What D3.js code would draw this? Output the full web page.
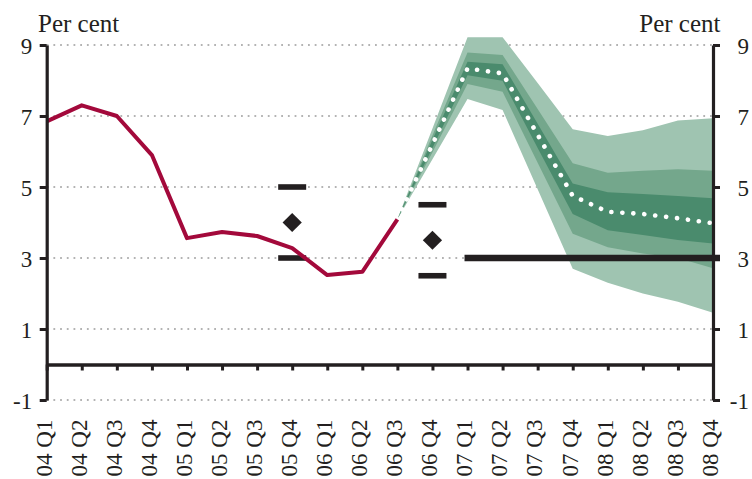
<!DOCTYPE html>
<html>
<head>
<meta charset="utf-8">
<script src="https://cdn.jsdelivr.net/npm/d3@7"></script>
<style>
  html, body { margin: 0; padding: 0; background: #fff; }
  #chart { width: 752px; height: 479px; }
  text { font-family: "Liberation Serif", "Times New Roman", serif; fill: #231f20; }
</style>
</head>
<body>
<div id="chart"></div>
<script>
// --- Data ---
const quarters = [
  "04 Q1", "04 Q2", "04 Q3", "04 Q4",
  "05 Q1", "05 Q2", "05 Q3", "05 Q4",
  "06 Q1", "06 Q2", "06 Q3", "06 Q4",
  "07 Q1", "07 Q2", "07 Q3", "07 Q4",
  "08 Q1", "08 Q2", "08 Q3", "08 Q4"
];
const yTicks = [-1, 1, 3, 5, 7, 9];

// outturn 04 Q1 - 06 Q3
const outturn = [6.85, 7.3, 7.0, 5.9, 3.56, 3.73, 3.62, 3.28, 2.52, 2.61, 4.09];

// fan chart 06 Q3 - 08 Q4
const fanQuarters = quarters.slice(10);
const fanMedian = [4.09, 6.2, 8.34, 8.2, 6.47, 4.75, 4.3, 4.24, 4.12, 3.98];
const fanHi1 = [4.09, 6.33, 8.53, 8.46, 6.78, 5.1, 4.85, 4.8, 4.75, 4.68];
const fanLo1 = [4.09, 6.1, 8.15, 7.99, 6.1, 4.24, 3.78, 3.65, 3.51, 3.41];
const fanHi2 = [4.09, 6.45, 8.79, 8.72, 7.2, 5.67, 5.4, 5.46, 5.5, 5.46];
const fanLo2 = [4.09, 5.98, 7.9, 7.68, 5.68, 3.68, 3.3, 3.13, 3.0, 2.71];
const fanHi3 = [4.09, 6.65, 9.22, 9.22, 7.93, 6.63, 6.44, 6.6, 6.87, 6.94];
const fanLo3 = [4.09, 5.78, 7.48, 7.17, 4.94, 2.7, 2.3, 2.0, 1.77, 1.46];

// target range markers
const rangeQuarters = ["05 Q4", "06 Q4"];
const rangeLow = [3.0, 2.5];
const rangeMid = [4.0, 3.5];
const rangeHigh = [5.0, 4.5];

// target line
const targetQuarters = quarters.slice(12);
const targetValue = 3;

// --- Setup ---
const W = 752, H = 479;
const left = 46.7, right = 713;
const ink = "#231f20";

const svg = d3.select("#chart").append("svg")
  .attr("width", W)
  .attr("height", H);

const x = d3.scalePoint().domain(quarters).range([left, right]);
const y = d3.scaleLinear().domain([-1, 9]).range([400, 45]);

// --- Gridlines ---
svg.append("g")
  .selectAll("line")
  .data(yTicks)
  .join("line")
  .attr("x1", left)
  .attr("x2", right)
  .attr("y1", d => y(d))
  .attr("y2", d => y(d))
  .attr("stroke", "#9a9a9a")
  .attr("stroke-width", 1.3)
  .attr("stroke-dasharray", "1.8,4.9");

// --- Fan bands ---
const fanRows = fanQuarters.map((q, i) => ({
  q, med: fanMedian[i],
  hi1: fanHi1[i], lo1: fanLo1[i],
  hi2: fanHi2[i], lo2: fanLo2[i],
  hi3: fanHi3[i], lo3: fanLo3[i]
}));

const bands = [
  { lo: "lo3", hi: "hi3", color: "#9fc4b1" },
  { lo: "lo2", hi: "hi2", color: "#74a78c" },
  { lo: "lo1", hi: "hi1", color: "#4a8b6d" }
];

bands.forEach(b => {
  svg.append("path")
    .datum(fanRows)
    .attr("fill", b.color)
    .attr("d", d3.area()
      .x(d => x(d.q))
      .y0(d => y(d[b.lo]))
      .y1(d => y(d[b.hi])));
});

// median dotted line
svg.append("path")
  .datum(fanRows)
  .attr("fill", "none")
  .attr("stroke", "#fff")
  .attr("stroke-width", 4.6)
  .attr("stroke-linecap", "round")
  .attr("stroke-dasharray", "0.1,10.9")
  .attr("d", d3.line().x(d => x(d.q)).y(d => y(d.med)));

// --- Target line at 3 ---
svg.append("line")
  .attr("x1", x(targetQuarters[0]) - 3)
  .attr("x2", x(targetQuarters[targetQuarters.length - 1]) + 7)
  .attr("y1", y(targetValue))
  .attr("y2", y(targetValue))
  .attr("stroke", ink)
  .attr("stroke-width", 6.5);

// --- Range bars and diamonds ---
const rangeG = svg.append("g");
rangeQuarters.forEach((q, i) => {
  [rangeLow[i], rangeHigh[i]].forEach(v => {
    rangeG.append("line")
      .attr("x1", x(q) - 14)
      .attr("x2", x(q) + 14)
      .attr("y1", y(v))
      .attr("y2", y(v))
      .attr("stroke", ink)
      .attr("stroke-width", 5.6);
  });
  rangeG.append("path")
    .attr("d", d3.symbol(d3.symbolSquare, 185)())
    .attr("transform", `translate(${x(q)},${y(rangeMid[i])}) rotate(45)`)
    .attr("fill", ink);
});

// --- Outturn line ---
svg.append("path")
  .datum(outturn)
  .attr("fill", "none")
  .attr("stroke", "#a3093b")
  .attr("stroke-width", 4)
  .attr("stroke-linejoin", "round")
  .attr("d", d3.line().x((d, i) => x(quarters[i])).y(d => y(d)));

// --- Axes ---
const yLeft = svg.append("g")
  .attr("transform", `translate(${left},0)`)
  .call(d3.axisLeft(y).tickValues(yTicks).tickSize(7).tickSizeOuter(0).tickPadding(7.5)
    .tickFormat(d => String(d)));

const yRight = svg.append("g")
  .attr("transform", `translate(${right},0)`)
  .call(d3.axisRight(y).tickValues(yTicks).tickSize(7).tickSizeOuter(0).tickPadding(17.5)
    .tickFormat(d => String(d)));

yRight.selectAll(".tick text").attr("dx", d => d < 0 ? "-0.333em" : 0);

const xAxis = svg.append("g")
  .attr("transform", `translate(0,${y(0)})`)
  .call(d3.axisBottom(x).tickSize(6).tickSizeOuter(0).tickFormat(""));

[yLeft, yRight, xAxis].forEach(g => {
  g.select(".domain").attr("stroke", ink).attr("stroke-width", 3.2);
  g.selectAll(".tick line").attr("stroke", ink).attr("stroke-width", 3);
  g.selectAll(".tick text")
    .attr("font-size", 23)
    .attr("dy", "0.35em")
    .attr("fill", ink)
    .style("font-family", "'Liberation Serif', serif");
});
xAxis.select(".domain").attr("stroke-width", 3.6);

// rotated quarter labels
svg.append("g")
  .selectAll("text")
  .data(quarters)
  .join("text")
  .attr("transform", d => `translate(${x(d) + 4.8},419.5) rotate(-90)`)
  .attr("text-anchor", "end")
  .attr("font-size", 23)
  .text(d => d);

// --- Unit labels ---
svg.append("text")
  .attr("x", 38)
  .attr("y", 32)
  .attr("font-size", 25)
  .text("Per cent");

svg.append("text")
  .attr("x", 720.5)
  .attr("y", 32)
  .attr("text-anchor", "end")
  .attr("font-size", 25)
  .text("Per cent");
</script>
</body>
</html>
